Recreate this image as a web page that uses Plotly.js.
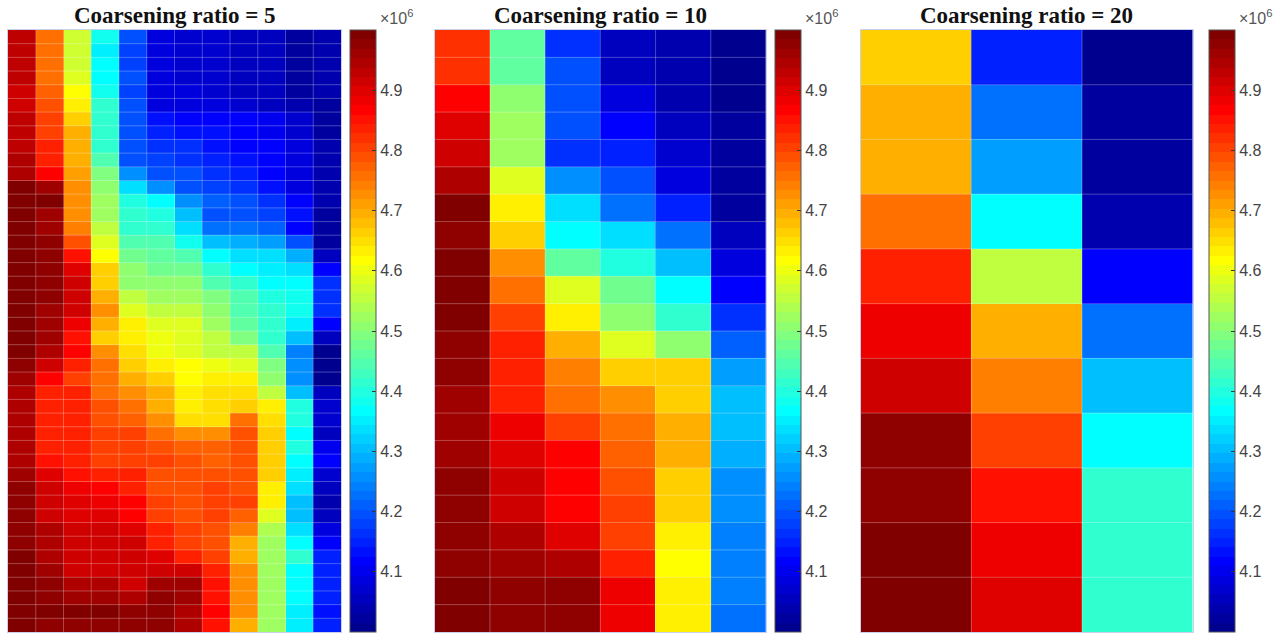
<!DOCTYPE html>
<html>
<head>
<meta charset="utf-8">
<script src="https://cdn.plot.ly/plotly-3.0.1.min.js"></script>
<style>html,body{margin:0;padding:0;background:#fff;}#chart{width:1282px;height:634px;}</style>
</head>
<body>
<div id="chart"></div>
<script>
// Values in units of 1e6
const titles = ["Coarsening ratio = 5", "Coarsening ratio = 10", "Coarsening ratio = 20"];
const cbTickVals = [4.1, 4.2, 4.3, 4.4, 4.5, 4.6, 4.7, 4.8, 4.9];
const cbTickText = ["4.1", "4.2", "4.3", "4.4", "4.5", "4.6", "4.7", "4.8", "4.9"];
const colorMin = 4.0, colorMax = 5.0;

const ratio5 = [
[4.93,4.75,4.57,4.38,4.19,4.08,4.07,4.07,4.06,4.05,4.03,4.04],
[4.93,4.75,4.57,4.35,4.18,4.08,4.07,4.07,4.06,4.05,4.03,4.04],
[4.93,4.75,4.57,4.36,4.18,4.08,4.07,4.07,4.06,4.05,4.03,4.04],
[4.93,4.76,4.58,4.37,4.19,4.08,4.07,4.07,4.06,4.05,4.03,4.04],
[4.92,4.77,4.62,4.38,4.18,4.08,4.08,4.07,4.06,4.05,4.03,4.04],
[4.92,4.79,4.64,4.41,4.20,4.09,4.09,4.08,4.07,4.06,4.04,4.03],
[4.93,4.80,4.67,4.42,4.19,4.13,4.12,4.12,4.11,4.10,4.07,4.03],
[4.93,4.81,4.69,4.42,4.19,4.15,4.14,4.13,4.12,4.10,4.07,4.03],
[4.93,4.83,4.69,4.42,4.19,4.17,4.16,4.14,4.12,4.11,4.08,4.04],
[4.94,4.83,4.70,4.44,4.20,4.18,4.17,4.15,4.13,4.11,4.08,4.04],
[4.95,4.87,4.71,4.49,4.25,4.20,4.19,4.17,4.15,4.12,4.09,4.04],
[4.99,4.96,4.73,4.51,4.34,4.26,4.20,4.18,4.16,4.13,4.09,4.04],
[4.99,5.00,4.73,4.52,4.40,4.37,4.25,4.21,4.19,4.16,4.11,4.04],
[5.00,4.96,4.72,4.53,4.41,4.40,4.30,4.20,4.19,4.18,4.13,4.03],
[5.00,4.96,4.74,4.55,4.41,4.42,4.34,4.22,4.22,4.21,4.12,4.03],
[5.00,4.97,4.79,4.58,4.44,4.44,4.39,4.31,4.29,4.28,4.20,4.03],
[5.00,4.98,4.85,4.62,4.47,4.46,4.45,4.37,4.34,4.33,4.29,4.05],
[5.00,4.98,4.90,4.66,4.50,4.47,4.47,4.41,4.37,4.35,4.34,4.12],
[5.00,4.98,4.91,4.67,4.51,4.50,4.50,4.45,4.41,4.37,4.37,4.17],
[5.00,4.97,4.92,4.70,4.55,4.53,4.53,4.49,4.44,4.40,4.38,4.17],
[5.00,4.96,4.91,4.73,4.59,4.56,4.55,4.51,4.45,4.41,4.38,4.17],
[5.00,4.96,4.88,4.70,4.63,4.59,4.58,4.53,4.46,4.41,4.35,4.12],
[5.00,4.96,4.85,4.67,4.63,4.60,4.59,4.55,4.49,4.41,4.30,4.06],
[5.00,4.94,4.86,4.73,4.65,4.60,4.59,4.56,4.55,4.44,4.24,4.00],
[4.98,4.91,4.84,4.75,4.67,4.63,4.62,4.60,4.59,4.49,4.25,4.00],
[4.96,4.86,4.81,4.75,4.70,4.66,4.62,4.63,4.63,4.50,4.25,4.00],
[4.95,4.84,4.83,4.76,4.73,4.69,4.63,4.65,4.65,4.56,4.31,4.05],
[4.95,4.84,4.83,4.79,4.75,4.70,4.64,4.65,4.67,4.63,4.40,4.07],
[4.95,4.84,4.83,4.79,4.77,4.72,4.65,4.65,4.75,4.65,4.40,4.07],
[4.95,4.84,4.83,4.80,4.80,4.76,4.73,4.73,4.79,4.67,4.37,4.05],
[4.95,4.84,4.83,4.81,4.80,4.79,4.77,4.77,4.79,4.67,4.40,4.10],
[4.95,4.85,4.84,4.81,4.81,4.80,4.79,4.77,4.79,4.67,4.37,4.11],
[4.96,4.90,4.85,4.84,4.83,4.79,4.79,4.79,4.79,4.66,4.35,4.07],
[4.97,4.91,4.88,4.86,4.84,4.79,4.79,4.80,4.79,4.64,4.34,4.06],
[4.97,4.92,4.90,4.89,4.86,4.80,4.79,4.80,4.80,4.64,4.31,4.04],
[4.98,4.92,4.90,4.90,4.86,4.80,4.79,4.80,4.77,4.59,4.31,4.06],
[4.97,4.94,4.91,4.91,4.90,4.83,4.80,4.79,4.74,4.54,4.33,4.08],
[4.98,4.95,4.92,4.91,4.91,4.84,4.80,4.79,4.70,4.53,4.37,4.12],
[5.00,4.95,4.92,4.92,4.92,4.90,4.84,4.80,4.69,4.53,4.41,4.15],
[4.99,4.96,4.92,4.92,4.92,4.91,4.91,4.84,4.72,4.53,4.37,4.15],
[5.00,4.97,4.94,4.94,4.92,4.96,4.96,4.85,4.72,4.53,4.37,4.15],
[4.99,4.98,4.96,4.96,4.95,4.97,4.96,4.85,4.72,4.53,4.36,4.15],
[4.99,4.99,5.00,5.00,4.98,4.97,4.95,4.86,4.72,4.53,4.35,4.14],
[4.99,4.98,4.98,4.98,4.98,4.97,4.95,4.85,4.70,4.53,4.35,4.15]
];

const ratio10 = [
[4.82,4.46,4.17,4.05,4.04,4.00],
[4.82,4.46,4.19,4.06,4.04,4.01],
[4.86,4.50,4.20,4.08,4.04,4.01],
[4.90,4.53,4.20,4.12,4.05,4.02],
[4.91,4.53,4.17,4.15,4.07,4.02],
[4.95,4.58,4.25,4.19,4.08,4.02],
[4.99,4.64,4.33,4.22,4.15,4.02],
[4.98,4.67,4.36,4.33,4.22,4.06],
[4.99,4.73,4.46,4.40,4.31,4.08],
[4.99,4.76,4.58,4.47,4.37,4.12],
[4.99,4.81,4.64,4.51,4.41,4.17],
[4.98,4.83,4.70,4.58,4.51,4.21],
[4.97,4.84,4.74,4.66,4.67,4.28],
[4.96,4.84,4.75,4.72,4.67,4.30],
[4.96,4.88,4.80,4.75,4.69,4.30],
[4.96,4.90,4.86,4.77,4.69,4.29],
[4.97,4.91,4.86,4.79,4.67,4.26],
[4.97,4.92,4.86,4.81,4.66,4.25],
[4.98,4.95,4.90,4.81,4.63,4.24],
[4.98,4.96,4.94,4.84,4.61,4.24],
[4.99,4.97,4.97,4.88,4.63,4.24],
[4.99,4.98,4.97,4.88,4.63,4.22]
];

const ratio20 = [
[4.66,4.15,4.01],
[4.69,4.22,4.02],
[4.69,4.28,4.02],
[4.75,4.37,4.04],
[4.83,4.56,4.12],
[4.88,4.70,4.22],
[4.91,4.74,4.31],
[4.97,4.81,4.36],
[4.98,4.85,4.41],
[4.99,4.88,4.41],
[4.99,4.90,4.42]
];

// MATLAB-style jet(64)
function jet(m) {
  const n = Math.ceil(m / 4);
  const u = [];
  for (let i = 1; i <= n; i++) u.push(i / n);
  for (let i = 1; i < n; i++) u.push(1);
  for (let i = n; i >= 1; i--) u.push(i / n);
  const off = Math.ceil(n / 2) - (m % 4 === 1 ? 1 : 0);
  const J = Array.from({length: m}, () => [0, 0, 0]);
  for (let k = 0; k < u.length; k++) {
    const g = off + k + 1, r = g + n, b = g - n;
    if (g >= 1 && g <= m) J[g - 1][1] = u[k];
    if (r >= 1 && r <= m) J[r - 1][0] = u[k];
    if (b >= 1 && b <= m) J[b - 1][2] = u[k];
  }
  return J;
}
const jetMap = jet(64);
const colorscale = [];
jetMap.forEach((c, k) => {
  const s = 'rgb(' + c.map(v => Math.round(v * 255)).join(',') + ')';
  colorscale.push([k / 64, s]);
  colorscale.push([(k + 1) / 64, s]);
});

const W = 1282, H = 634;
const plotTop = 30, plotBot = 632;
const panels = [
  {data: ratio5, x0: 8, x1: 341, cb: 350},
  {data: ratio10, x0: 434.7, x1: 766, cb: 775},
  {data: ratio20, x0: 860.7, x1: 1192.7, cb: 1208.7}
];

const traces = [];
const layout = {
  width: W, height: H,
  margin: {l: 0, r: 0, t: 0, b: 0},
  paper_bgcolor: '#fff', plot_bgcolor: '#fff',
  showlegend: false,
  annotations: [], shapes: []
};
const yDom = [(H - plotBot) / H, (H - plotTop) / H];

panels.forEach((p, i) => {
  const sfx = i === 0 ? '' : String(i + 1);
  const nr = p.data.length, nc = p.data[0].length;
  traces.push({
    type: 'heatmap',
    z: p.data,
    xaxis: 'x' + sfx, yaxis: 'y' + sfx,
    zmin: colorMin, zmax: colorMax,
    colorscale: colorscale,
    zsmooth: false,
    hoverinfo: 'z',
    colorbar: {
      x: p.cb / W, xanchor: 'left', xref: 'paper',
      y: yDom[0], yanchor: 'bottom', yref: 'paper',
      len: (plotBot - plotTop) / H, lenmode: 'fraction',
      thickness: 26, thicknessmode: 'pixels',
      xpad: 0, ypad: 0,
      outlinewidth: 1, outlinecolor: '#555',
      tickmode: 'array', tickvals: cbTickVals, ticktext: cbTickText,
      ticks: 'inside', ticklen: 4, tickwidth: 1, tickcolor: '#333',
      tickfont: {family: 'Liberation Sans, Arial, sans-serif', size: 16, color: '#444'}
    }
  });
  layout['xaxis' + sfx] = {
    domain: [p.x0 / W, p.x1 / W], anchor: 'y' + sfx,
    range: [-0.5, nc - 0.5], showgrid: false, zeroline: false,
    showticklabels: false, ticks: '',
    showline: true, mirror: true, linecolor: '#c9d0ee', linewidth: 1
  };
  layout['yaxis' + sfx] = {
    domain: yDom, anchor: 'x' + sfx,
    range: [nr - 0.5, -0.5], showgrid: false, zeroline: false,
    showticklabels: false, ticks: '',
    showline: true, mirror: true, linecolor: '#c9d0ee', linewidth: 1
  };
  // faint cell edges
  for (let c = 1; c < nc; c++) {
    layout.shapes.push({type: 'line', xref: 'x' + sfx, yref: 'y' + sfx,
      x0: c - 0.5, x1: c - 0.5, y0: -0.5, y1: nr - 0.5,
      line: {color: 'rgba(255,255,255,0.28)', width: 1}, layer: 'above'});
  }
  for (let r = 1; r < nr; r++) {
    layout.shapes.push({type: 'line', xref: 'x' + sfx, yref: 'y' + sfx,
      x0: -0.5, x1: nc - 0.5, y0: r - 0.5, y1: r - 0.5,
      line: {color: 'rgba(255,255,255,0.28)', width: 1}, layer: 'above'});
  }
  layout.annotations.push({
    text: '<b>' + titles[i] + '</b>', xref: 'paper', yref: 'paper',
    x: (p.x0 + p.x1) / 2 / W, y: (H - 16) / H, xanchor: 'center', yanchor: 'middle',
    showarrow: false,
    font: {family: 'Liberation Serif, Times New Roman, serif', size: 23, color: '#111'}
  });
  layout.annotations.push({
    text: '\u00d710<sup>6</sup>', xref: 'paper', yref: 'paper',
    x: (p.cb + 28) / W, y: (H - 17) / H, xanchor: 'left', yanchor: 'middle',
    showarrow: false,
    font: {family: 'Liberation Sans, Arial, sans-serif', size: 16, color: '#555'}
  });
});

Plotly.newPlot('chart', traces, layout, {staticPlot: true, displayModeBar: false});
</script>
</body>
</html>
